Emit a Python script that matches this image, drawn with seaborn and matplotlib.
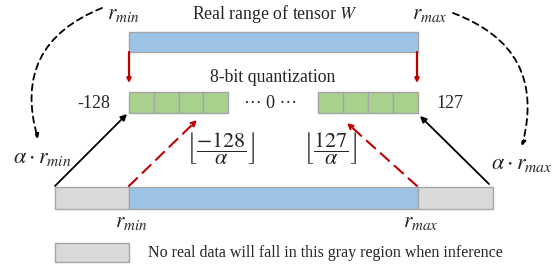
import matplotlib.pyplot as plt
import seaborn as sns
from matplotlib.patches import Rectangle, FancyArrowPatch

sns.set_theme(style="white")
plt.rcParams['font.family'] = ['Liberation Serif', 'DejaVu Serif']
plt.rcParams['mathtext.fontset'] = 'stix'

# colours
blue = "#9DC3E6"
green = "#A9D18E"
gray = "#D9D9D9"
edge = "#A6A6A6"
red = "#C00000"

# layout (pixel coordinates, y grows downwards)
top_bar = [129, 32, 418, 52]             # x0, y0, x1, y1
left_cells = [129, 228]                  # x range of the 4 left cells
right_cells = [318, 418]                 # x range of the 4 right cells
cell_y = [92, 113]
bottom_y = [187, 209]
bottom_gray_left = [55, 129]
bottom_blue = [129, 418]
bottom_gray_right = [418, 493]
legend_box = [55, 243, 129, 262]
n_cells = 4

fig = plt.figure(figsize=(5.59, 2.67), dpi=100)
ax = fig.add_axes([0, 0, 1, 1])
ax.set_xlim(0, 559)
ax.set_ylim(267, 0)
ax.axis('off')


def box(x0, y0, x1, y1, color):
    ax.add_patch(Rectangle((x0, y0), x1 - x0, y1 - y0, facecolor=color,
                           edgecolor=edge, linewidth=1.0, zorder=2))


def arrow(p0, p1, color, ls='-', lw=1.3, scale=8, style='-|>', rad=0.0):
    a = FancyArrowPatch(p0, p1, arrowstyle=style, mutation_scale=scale,
                        color=color, linewidth=lw, linestyle=ls,
                        connectionstyle=f"arc3,rad={rad}", shrinkA=0, shrinkB=0,
                        zorder=3)
    ax.add_patch(a)


# top bar
box(*top_bar, blue)
ax.text(275, 14, "Real range of tensor $W$", ha='center', va='center', fontsize=12.8)
ax.text(123, 15, r"$r_{min}$", ha='center', va='center', fontsize=15.5)
ax.text(430, 15, r"$r_{max}$", ha='center', va='center', fontsize=15.5)

# red solid arrows down
arrow((129, 52), (129, 83), red, lw=1.6, scale=6)
arrow((417, 52), (417, 83), red, lw=1.6, scale=6)

# quantization cells
ax.text(273, 77, "8-bit quantization", ha='center', va='center', fontsize=12.8)
for xr in (left_cells, right_cells):
    w = (xr[1] - xr[0]) / n_cells
    for i in range(n_cells):
        box(xr[0] + i * w, cell_y[0], xr[0] + (i + 1) * w, cell_y[1], green)
ax.text(94, 104, "-128", ha='center', va='center', fontsize=13)
ax.text(450, 104, "127", ha='center', va='center', fontsize=13)
ax.text(271, 103, "··· 0 ···", ha='center', va='center', fontsize=13)

# floor brackets
ax.text(221, 148, r"$\left\lfloor\dfrac{-128}{\alpha}\right\rfloor$",
        ha='center', va='center', fontsize=16)
ax.text(331, 148, r"$\left\lfloor\dfrac{127}{\alpha}\right\rfloor$",
        ha='center', va='center', fontsize=16)

# bottom bar
box(bottom_gray_left[0], bottom_y[0], bottom_gray_left[1], bottom_y[1], gray)
box(bottom_blue[0], bottom_y[0], bottom_blue[1], bottom_y[1], blue)
box(bottom_gray_right[0], bottom_y[0], bottom_gray_right[1], bottom_y[1], gray)
ax.text(131, 222, r"$r_{min}$", ha='center', va='center', fontsize=15.5)
ax.text(421, 222, r"$r_{max}$", ha='center', va='center', fontsize=15.5)

# black solid arrows
arrow((55, 186), (127, 114), 'black', lw=1.3, scale=9)
arrow((489, 184), (420, 116), 'black', lw=1.3, scale=9)

# red dashed arrows
arrow((129, 186), (197, 120), red, ls=(0, (5.5, 3.5)), lw=1.5, scale=8)
arrow((417, 186), (347, 123), red, ls=(0, (5.5, 3.5)), lw=1.5, scale=8)

# alpha labels
ax.text(42, 158, r"$\alpha\cdot r_{min}$", ha='center', va='center', fontsize=16)
ax.text(522, 165, r"$\alpha\cdot r_{max}$", ha='center', va='center', fontsize=16)

# dashed curves
arrow((102, 8), (38, 139), 'black', ls=(0, (3.5, 2.5)), lw=1.3, scale=7, rad=0.45)
arrow((453, 13), (522, 146), 'black', ls=(0, (3.5, 2.5)), lw=1.3, scale=7, rad=-0.45)

# legend
box(*legend_box, gray)
ax.text(148, 253, "No real data will fall in this gray region when inference",
        ha='left', va='center', fontsize=11.5)

fig.savefig("out.png", dpi=100)
